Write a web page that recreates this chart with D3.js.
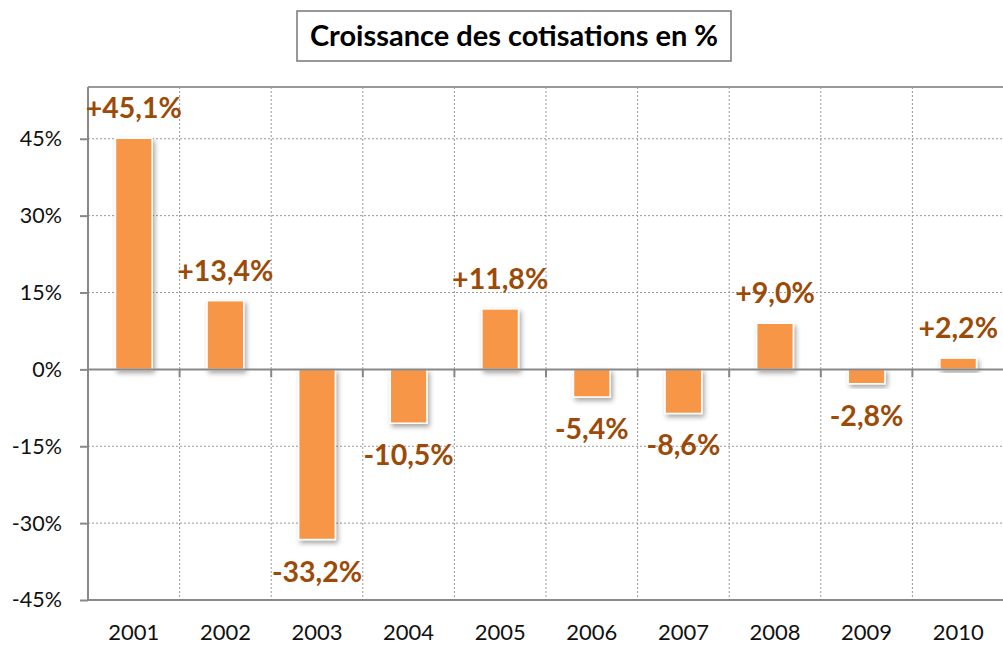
<!DOCTYPE html>
<html>
<head>
<meta charset="utf-8">
<script src="https://cdn.jsdelivr.net/npm/d3@7"></script>
<style>
  body { margin: 0; background: #fff; }
  text { font-family: Lato, "Open Sans", sans-serif; }
</style>
</head>
<body>
<div id="chart"></div>
<script>

// data
var years = ["2001", "2002", "2003", "2004", "2005", "2006", "2007", "2008", "2009", "2010"];
var growth = [45.1, 13.4, -33.2, -10.5, 11.8, -5.4, -8.6, 9.0, -2.8, 2.2];
var yTicks = [-45, -30, -15, 0, 15, 30, 45];
var title = "Croissance des cotisations en %";

var width = 1003;
var height = 646;
var margin = ({top: 87, right: -1, bottom: 46, left: 88});

var svg = d3.select("#chart")
  .append("svg")
    .attr("width", width)
    .attr("height", height);

var defs = svg.append("defs");
var shadow = defs.append("filter")
    .attr("id", "shadow")
    .attr("x", "-30%").attr("y", "-30%")
    .attr("width", "160%").attr("height", "160%");
shadow.append("feDropShadow")
    .attr("dx", 2).attr("dy", 3)
    .attr("stdDeviation", 2.5)
    .attr("flood-color", "#000")
    .attr("flood-opacity", 0.35);

var x = d3.scaleBand()
  .domain(years)
  .range([margin.left, width - margin.right])
  .paddingInner(0.6)
  .paddingOuter(0.3);

var y = d3.scaleLinear()
  .domain([-45, 55.1])
  .range([height - margin.bottom, margin.top]);

var boundaries = years.map((d, i) => margin.left + i * (width - margin.right - margin.left) / years.length);
boundaries.shift();

// horizontal dotted gridlines
svg.append("g")
  .selectAll("line")
  .data(yTicks.filter(d => d !== 0 && d !== -45))
  .join("line")
    .attr("x1", margin.left)
    .attr("x2", width)
    .attr("y1", d => y(d))
    .attr("y2", d => y(d))
    .attr("stroke", "#999")
    .attr("stroke-width", 1)
    .attr("stroke-dasharray", "2,2");

// vertical dotted gridlines
svg.append("g")
  .selectAll("line")
  .data(boundaries)
  .join("line")
    .attr("x1", d => d)
    .attr("x2", d => d)
    .attr("y1", margin.top)
    .attr("y2", y(-45))
    .attr("stroke", "#999")
    .attr("stroke-width", 1)
    .attr("stroke-dasharray", "2,2");

// top border
svg.append("line")
    .attr("x1", margin.left).attr("x2", width)
    .attr("y1", margin.top).attr("y2", margin.top)
    .attr("stroke", "#999").attr("stroke-width", 2);

// bottom line
svg.append("line")
    .attr("x1", margin.left).attr("x2", width)
    .attr("y1", y(-45)).attr("y2", y(-45))
    .attr("stroke", "#888").attr("stroke-width", 2);

// y axis
var yAxis = svg.append("g")
    .attr("transform", `translate(${margin.left},0)`)
    .call(d3.axisLeft(y).tickValues(yTicks).tickFormat(d => d + "%").tickSize(8).tickPadding(18));
yAxis.select(".domain").remove();
yAxis.selectAll(".tick line").attr("stroke", "#888").attr("stroke-width", 2);
yAxis.selectAll(".tick text")
    .attr("font-size", 21.5)
    .attr("fill", "#111")
    .attr("font-family", "Lato, 'Open Sans', sans-serif");
svg.append("line")
    .attr("x1", margin.left).attr("x2", margin.left)
    .attr("y1", margin.top).attr("y2", y(-45) + 1)
    .attr("stroke", "#888").attr("stroke-width", 2);

// bars
svg.append("g")
  .selectAll("rect")
  .data(growth)
  .join("rect")
    .attr("x", (d, i) => x(years[i]))
    .attr("width", x.bandwidth())
    .attr("y", d => y(Math.max(0, d)))
    .attr("height", d => Math.abs(y(d) - y(0)))
    .attr("fill", "#F79646")
    .attr("stroke", "#fff")
    .attr("stroke-width", 1.5)
    .attr("filter", "url(#shadow)");

// zero line with ticks
svg.append("line")
    .attr("x1", margin.left).attr("x2", width)
    .attr("y1", y(0)).attr("y2", y(0))
    .attr("stroke", "#888").attr("stroke-width", 2);
svg.append("g")
  .selectAll("line")
  .data(boundaries)
  .join("line")
    .attr("x1", d => d).attr("x2", d => d)
    .attr("y1", y(0)).attr("y2", y(0) + 8)
    .attr("stroke", "#888").attr("stroke-width", 2);

// x labels
svg.append("g")
  .selectAll("text")
  .data(years)
  .join("text")
    .attr("x", d => x(d) + x.bandwidth() / 2)
    .attr("y", y(-45) + 40)
    .attr("text-anchor", "middle")
    .attr("font-size", 22)
    .attr("fill", "#111")
    .text(d => d);

// value labels
var fmt = d => (d > 0 ? "+" : "") + d.toFixed(1).replace(".", ",") + "%";
svg.append("g")
  .selectAll("text")
  .data(growth)
  .join("text")
    .attr("x", (d, i) => x(years[i]) + x.bandwidth() / 2)
    .attr("y", d => d >= 0 ? y(d) - 20 : y(d) + 42)
    .attr("text-anchor", "middle")
    .attr("font-size", 28.5)
    .attr("font-weight", "bold")
    .attr("fill", "#9C4A08")
    .text(fmt);

// title box
svg.append("rect")
    .attr("x", 297).attr("y", 11)
    .attr("width", 434).attr("height", 50)
    .attr("fill", "#fff")
    .attr("stroke", "#777")
    .attr("stroke-width", 1.5);
svg.append("text")
    .attr("x", 514)
    .attr("y", 46)
    .attr("text-anchor", "middle")
    .attr("font-size", 29)
    .attr("font-weight", "bold")
    .attr("fill", "#000")
    .text(title);

</script>
</body>
</html>
